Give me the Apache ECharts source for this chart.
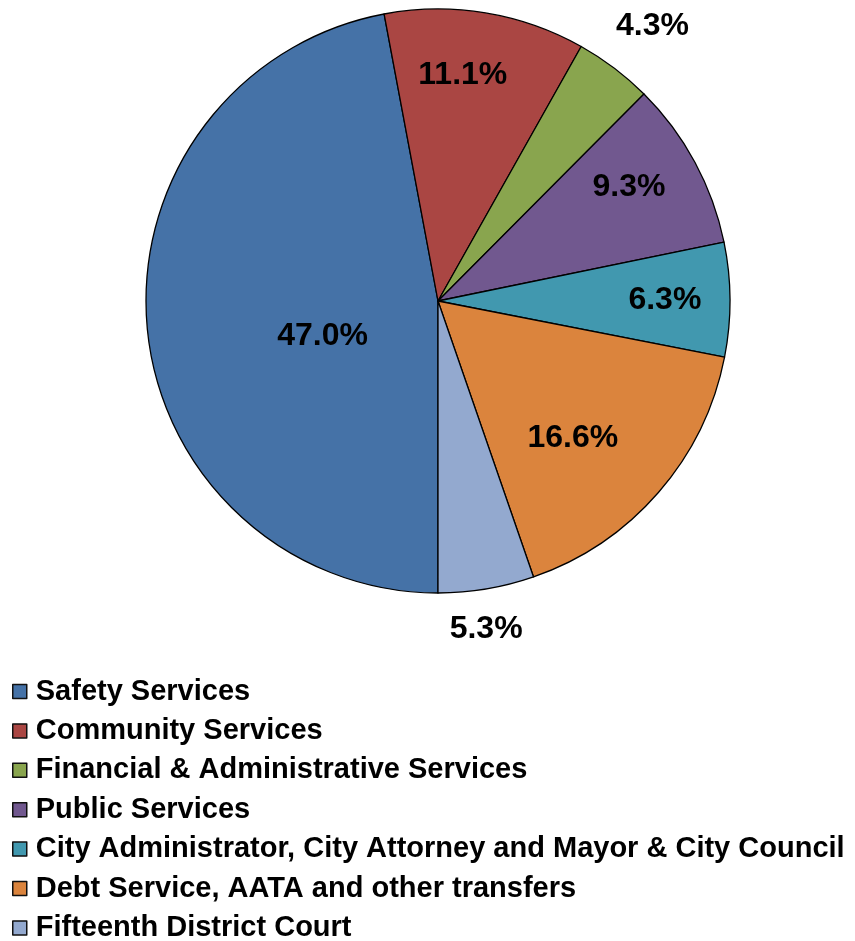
<!DOCTYPE html>
<html>
<head>
<meta charset="utf-8">
<script src="https://cdn.jsdelivr.net/npm/echarts@6/dist/echarts.min.js"></script>
<style>
  html, body { margin: 0; padding: 0; background: #fff; }
  #chart { width: 855px; height: 941px; }
</style>
</head>
<body>
<div id="chart"></div>
<script>
// 各部门支出占比
var categories = [
  'Safety Services',
  'Community Services',
  'Financial & Administrative Services',
  'Public Services',
  'City Administrator, City Attorney and Mayor & City Council',
  'Debt Service, AATA and other transfers',
  'Fifteenth District Court'
];
var shares = [47.0, 11.1, 4.3, 9.3, 6.3, 16.6, 5.3];

var colors = ['#4572A7', '#AA4643', '#89A54E', '#71588F', '#4198AF', '#DB843D', '#93A9CF'];
// 标签位置微调: 到圆心距离(半径比例) 和 相对扇区中线的偏转角(度, 顺时针)
var labelDist = [0.413, 0.778, 1.195, 0.762, 0.777, 0.659, 1.135];
var labelTurn = [-11.5, -3.1, 0.8, -2.5, 0, 4.5, 1.2];

var cx = 438, cy = 301, R = 292;

var chart = echarts.init(document.getElementById('chart'), null, { renderer: 'canvas' });

var option = {
  animation: false,
  color: colors,
  legend: {
    orient: 'vertical',
    left: 12,
    top: 677,
    height: 270,
    padding: 0,
    itemWidth: 14,
    itemHeight: 14,
    itemGap: 10.4,
    icon: 'rect',
    itemStyle: { borderColor: '#111', borderWidth: 1.5 },
    textStyle: {
      fontFamily: '"Liberation Sans", Arial, sans-serif',
      fontWeight: 'bold',
      fontSize: 29,
      color: '#000',
      padding: [0, 0, 0, 4]
    },
    data: categories
  },
  series: [{
    type: 'pie',
    center: [cx, cy],
    radius: [0, R],
    startAngle: 270,
    clockwise: true,
    avoidLabelOverlap: false,
    itemStyle: { borderColor: '#000', borderWidth: 1.3 },
    label: {
      show: true,
      position: 'inside',
      fontFamily: '"Liberation Sans", Arial, sans-serif',
      fontWeight: 'bold',
      fontSize: 32,
      color: '#000',
      formatter: function (p) { return p.value.toFixed(1) + '%'; }
    },
    labelLine: { show: false },
    emphasis: { disabled: true },
    labelLayout: function (p) {
      var r = p.labelRect;
      var mx = r.x + r.width / 2, my = r.y + r.height / 2;
      var dx = mx - cx, dy = my - cy;
      var d = Math.sqrt(dx * dx + dy * dy) || 1;
      var ux = dx / d, uy = dy / d;
      var a = labelTurn[p.dataIndex] * Math.PI / 180;
      var vx = ux * Math.cos(a) - uy * Math.sin(a);
      var vy = ux * Math.sin(a) + uy * Math.cos(a);
      var dist = labelDist[p.dataIndex] * R;
      return {
        x: cx + vx * dist,
        y: cy + vy * dist,
        align: 'center',
        verticalAlign: 'middle'
      };
    },
    data: categories.map(function (c, i) { return { name: c, value: shares[i] }; })
  }]
};

chart.setOption(option);
</script>
</body>
</html>
